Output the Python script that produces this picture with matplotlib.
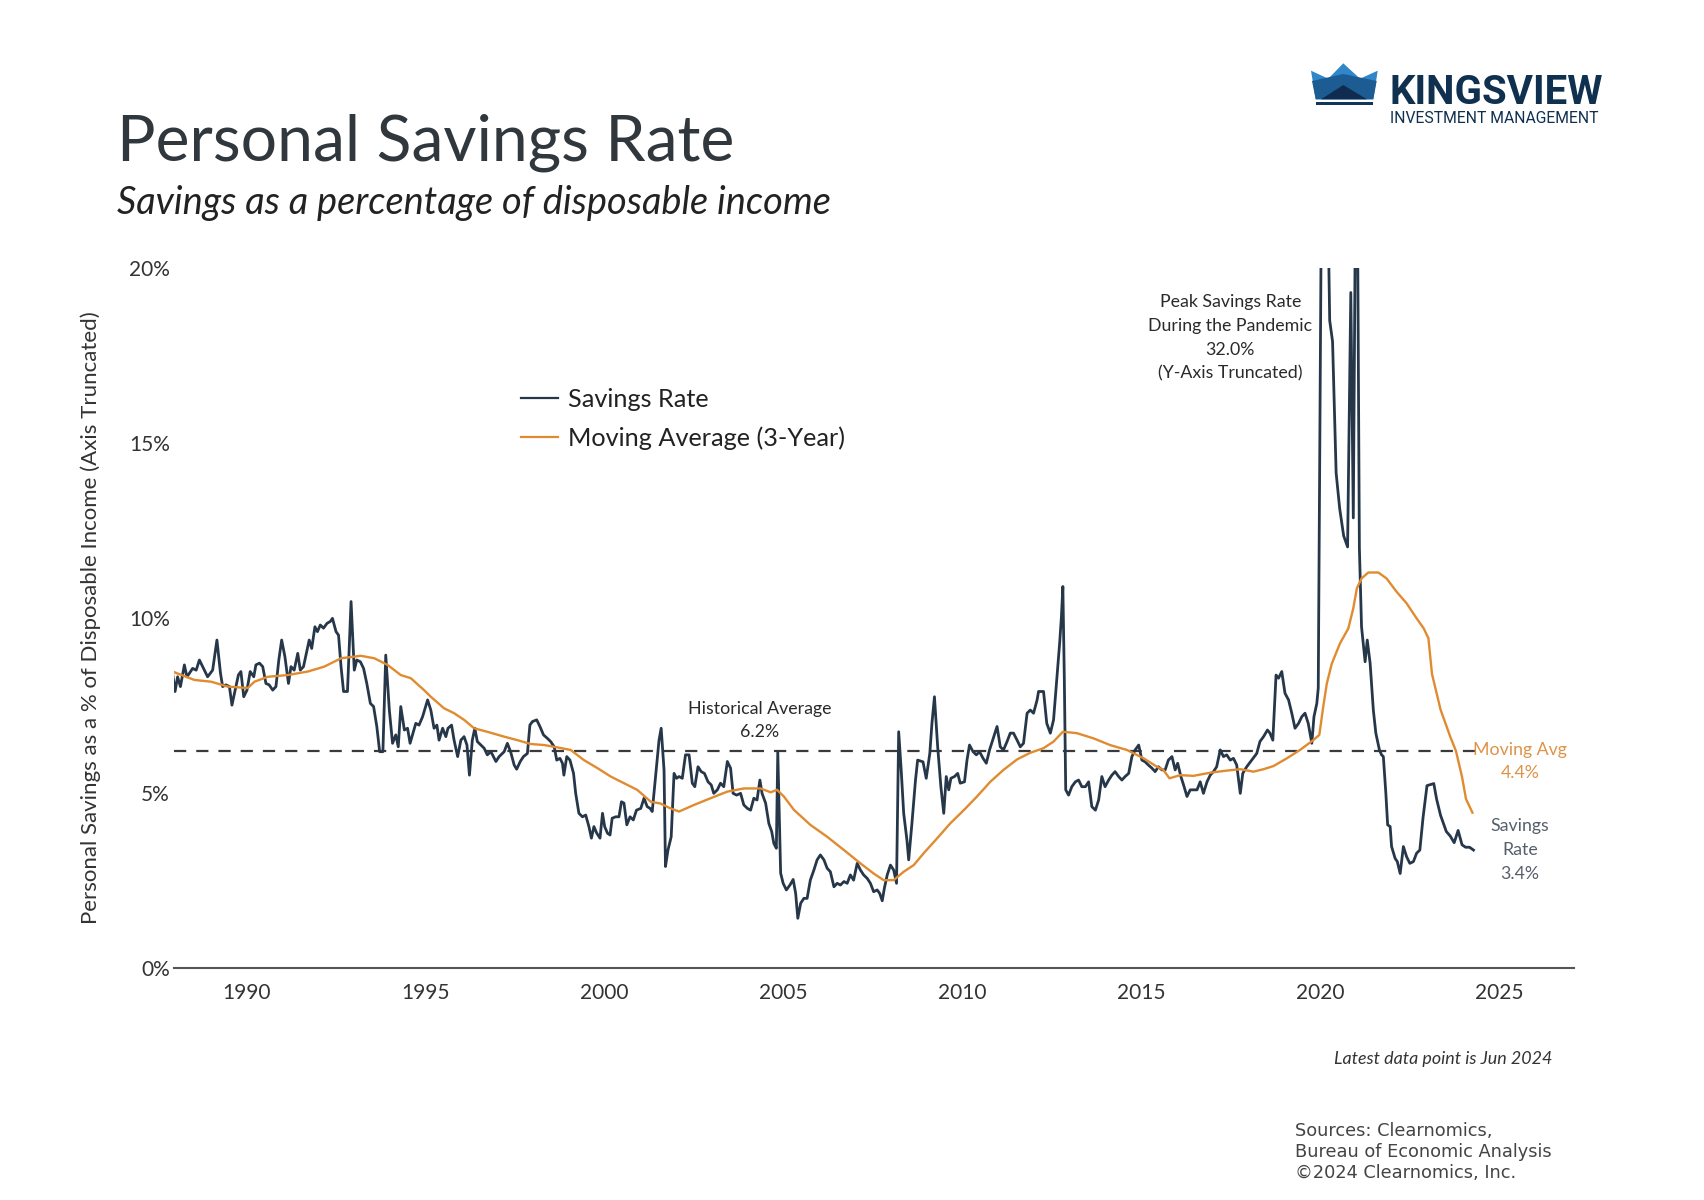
import matplotlib
matplotlib.use("Agg")
import matplotlib.pyplot as plt
from matplotlib.patches import Polygon, Rectangle

plt.rcParams['font.family'] = ['Lato', 'DejaVu Sans']

#%% Data (x in fractional years as placed on the chart)
sr_years = [
    1987.92, 1987.99, 1988.06, 1988.14, 1988.20, 1988.25, 1988.32, 1988.39, 1988.48, 1988.58,
    1988.67, 1988.76, 1988.90, 1989.04, 1989.16, 1989.26, 1989.32, 1989.41, 1989.51, 1989.58,
    1989.67, 1989.76, 1989.83, 1989.91, 1990.00, 1990.09, 1990.19, 1990.25, 1990.35, 1990.44,
    1990.53, 1990.62, 1990.72, 1990.81, 1990.89, 1990.97, 1991.06, 1991.16, 1991.23, 1991.32,
    1991.42, 1991.49, 1991.58, 1991.68, 1991.74, 1991.81, 1991.90, 1991.97, 1992.05, 1992.14,
    1992.24, 1992.33, 1992.39, 1992.49, 1992.56, 1992.63, 1992.70, 1992.81, 1992.91, 1993.00,
    1993.07, 1993.17, 1993.26, 1993.35, 1993.45, 1993.54, 1993.63, 1993.71, 1993.80, 1993.88,
    1993.98, 1994.07, 1994.16, 1994.23, 1994.30, 1994.40, 1994.49, 1994.56, 1994.72, 1994.81,
    1994.91, 1995.05, 1995.14, 1995.23, 1995.31, 1995.37, 1995.47, 1995.56, 1995.62, 1995.72,
    1995.79, 1995.89, 1995.98, 1996.07, 1996.15, 1996.22, 1996.30, 1996.37, 1996.44, 1996.54,
    1996.63, 1996.72, 1996.82, 1996.96, 1997.05, 1997.19, 1997.28, 1997.37, 1997.47, 1997.54,
    1997.64, 1997.73, 1997.84, 1997.91, 1997.98, 1998.10, 1998.19, 1998.29, 1998.40, 1998.49,
    1998.59, 1998.66, 1998.75, 1998.82, 1998.86, 1998.94, 1999.03, 1999.13, 1999.19, 1999.28,
    1999.38, 1999.47, 1999.56, 1999.63, 1999.70, 1999.78, 1999.87, 1999.94, 2000.00, 2000.08,
    2000.15, 2000.21, 2000.31, 2000.40, 2000.47, 2000.54, 2000.62, 2000.71, 2000.80, 2000.89,
    2001.01, 2001.10, 2001.19, 2001.27, 2001.33, 2001.43, 2001.52, 2001.58, 2001.66, 2001.70,
    2001.77, 2001.86, 2001.94, 2002.01, 2002.08, 2002.17, 2002.26, 2002.36, 2002.45, 2002.52,
    2002.61, 2002.70, 2002.79, 2002.89, 2002.98, 2003.05, 2003.15, 2003.24, 2003.33, 2003.43,
    2003.52, 2003.59, 2003.69, 2003.80, 2003.89, 2003.99, 2004.08, 2004.17, 2004.26, 2004.34,
    2004.40, 2004.50, 2004.59, 2004.67, 2004.73, 2004.80, 2004.84, 2004.92, 2004.99, 2005.08,
    2005.18, 2005.27, 2005.34, 2005.40, 2005.48, 2005.57, 2005.66, 2005.75, 2005.85, 2005.94,
    2006.03, 2006.13, 2006.22, 2006.31, 2006.41, 2006.50, 2006.59, 2006.69, 2006.78, 2006.87,
    2006.96, 2007.06, 2007.15, 2007.24, 2007.34, 2007.43, 2007.52, 2007.62, 2007.69, 2007.76,
    2007.82, 2007.90, 2007.99, 2008.08, 2008.16, 2008.22, 2008.29, 2008.36, 2008.45, 2008.50,
    2008.59, 2008.69, 2008.75, 2008.90, 2008.99, 2009.09, 2009.15, 2009.22, 2009.31, 2009.40,
    2009.48, 2009.55, 2009.62, 2009.68, 2009.78, 2009.87, 2009.94, 2010.06, 2010.13, 2010.20,
    2010.30, 2010.39, 2010.48, 2010.58, 2010.67, 2010.76, 2010.88, 2010.97, 2011.06, 2011.15,
    2011.25, 2011.34, 2011.43, 2011.53, 2011.62, 2011.71, 2011.81, 2011.90, 2011.99, 2012.09,
    2012.13, 2012.27, 2012.36, 2012.46, 2012.55, 2012.64, 2012.72, 2012.77, 2012.81, 2012.85,
    2012.89, 2012.97, 2013.06, 2013.16, 2013.25, 2013.34, 2013.44, 2013.53, 2013.62, 2013.72,
    2013.81, 2013.90, 2013.99, 2014.09, 2014.18, 2014.27, 2014.37, 2014.46, 2014.55, 2014.65,
    2014.74, 2014.83, 2014.93, 2015.02, 2015.11, 2015.20, 2015.30, 2015.39, 2015.48, 2015.58,
    2015.67, 2015.76, 2015.86, 2015.95, 2016.02, 2016.11, 2016.20, 2016.28, 2016.37, 2016.46,
    2016.56, 2016.65, 2016.74, 2016.84, 2016.93, 2017.02, 2017.11, 2017.21, 2017.30, 2017.39,
    2017.49, 2017.58, 2017.67, 2017.77, 2017.84, 2017.95, 2018.09, 2018.23, 2018.32, 2018.42,
    2018.53, 2018.60, 2018.68, 2018.77, 2018.84, 2018.93, 2019.02, 2019.12, 2019.21, 2019.30,
    2019.40, 2019.49, 2019.58, 2019.67, 2019.77, 2019.83, 2019.91, 2019.95, 2020.10, 2020.18,
    2020.27, 2020.35, 2020.45, 2020.55, 2020.66, 2020.77, 2020.86, 2020.93, 2021.02, 2021.10,
    2021.16, 2021.26, 2021.32, 2021.40, 2021.49, 2021.56, 2021.66, 2021.72, 2021.77, 2021.84,
    2021.89, 2021.96, 2022.00, 2022.10, 2022.16, 2022.24, 2022.33, 2022.42, 2022.51, 2022.61,
    2022.70, 2022.79, 2022.88, 2022.99, 2023.18, 2023.26, 2023.37, 2023.53, 2023.64, 2023.75,
    2023.86, 2023.97, 2024.07, 2024.18, 2024.29,
]
sr_vals = [
    8.42, 7.90, 8.32, 8.04, 8.37, 8.66, 8.32, 8.42, 8.56, 8.51,
    8.80, 8.61, 8.32, 8.51, 9.37, 8.42, 8.04, 8.09, 8.04, 7.51,
    7.94, 8.37, 8.47, 7.75, 7.94, 8.47, 8.32, 8.66, 8.71, 8.61,
    8.13, 8.09, 7.94, 8.04, 8.80, 9.37, 8.90, 8.13, 8.61, 8.51,
    8.99, 8.51, 8.61, 9.09, 9.37, 9.13, 9.75, 9.61, 9.80, 9.71,
    9.85, 9.90, 9.99, 9.61, 9.51, 8.61, 7.90, 7.90, 10.47, 8.51,
    8.80, 8.75, 8.56, 8.13, 7.56, 7.47, 6.90, 6.18, 6.18, 8.94,
    7.37, 6.42, 6.66, 6.32, 7.47, 6.80, 6.85, 6.42, 6.99, 6.94,
    7.18, 7.66, 7.37, 6.85, 6.94, 6.51, 6.85, 6.61, 6.85, 6.94,
    6.51, 6.04, 6.51, 6.61, 6.37, 5.51, 6.51, 6.85, 6.47, 6.37,
    6.28, 6.09, 6.18, 5.90, 6.04, 6.18, 6.42, 6.18, 5.80, 5.68,
    5.90, 6.04, 6.13, 6.94, 7.04, 7.09, 6.90, 6.66, 6.56, 6.47,
    6.32, 5.94, 5.99, 5.85, 5.51, 6.04, 5.94, 5.56, 4.99, 4.42,
    4.32, 4.37, 4.04, 3.71, 4.04, 3.85, 3.71, 4.42, 4.04, 3.85,
    3.80, 4.28, 4.32, 4.32, 4.75, 4.71, 4.09, 4.32, 4.23, 4.51,
    4.56, 4.85, 4.61, 4.56, 4.47, 5.56, 6.51, 6.85, 5.66, 2.90,
    3.37, 3.75, 5.56, 5.42, 5.47, 5.42, 6.09, 6.09, 5.28, 5.18,
    5.75, 5.61, 5.56, 5.32, 5.23, 4.99, 5.09, 5.28, 5.18, 5.90,
    5.71, 4.99, 4.94, 4.99, 4.66, 4.56, 4.51, 4.85, 4.80, 5.37,
    4.99, 4.71, 4.13, 3.90, 3.56, 3.42, 6.18, 2.71, 2.42, 2.23,
    2.37, 2.53, 2.13, 1.42, 1.85, 1.99, 1.99, 2.51, 2.80, 3.09,
    3.23, 3.09, 2.85, 2.75, 2.32, 2.42, 2.37, 2.47, 2.42, 2.66,
    2.51, 2.99, 2.80, 2.66, 2.56, 2.42, 2.18, 2.23, 2.13, 1.92,
    2.28, 2.66, 2.94, 2.80, 2.42, 6.75, 5.66, 4.42, 3.66, 3.09,
    4.13, 5.37, 5.94, 5.89, 5.42, 6.13, 6.99, 7.75, 6.32, 5.18,
    4.42, 5.47, 5.09, 5.42, 5.47, 5.56, 5.28, 5.32, 5.94, 6.37,
    6.18, 6.09, 6.18, 5.99, 5.85, 6.23, 6.61, 6.90, 6.32, 6.23,
    6.47, 6.71, 6.71, 6.51, 6.32, 6.42, 7.28, 7.37, 7.28, 7.66,
    7.90, 7.90, 6.99, 6.71, 7.09, 8.23, 9.28, 10.04, 10.90, 8.32,
    5.09, 4.94, 5.18, 5.32, 5.37, 5.18, 5.18, 5.32, 4.61, 4.51,
    4.80, 5.47, 5.18, 5.37, 5.51, 5.61, 5.47, 5.37, 5.47, 5.56,
    6.04, 6.23, 6.37, 5.94, 5.89, 5.80, 5.71, 5.61, 5.75, 5.66,
    5.66, 5.94, 6.04, 5.66, 5.85, 5.47, 5.18, 4.90, 5.09, 5.09,
    5.09, 5.32, 4.99, 5.32, 5.51, 5.61, 5.75, 6.23, 6.04, 6.09,
    5.94, 5.99, 5.80, 4.99, 5.56, 5.75, 5.94, 6.13, 6.47, 6.61,
    6.80, 6.71, 6.51, 8.37, 8.28, 8.47, 7.85, 7.66, 7.28, 6.85,
    6.99, 7.18, 7.28, 6.99, 6.42, 7.18, 7.56, 8.00, 32.0, 24.5,
    18.5, 17.9, 14.14, 13.12, 12.35, 12.03, 19.3, 12.86, 26.5, 12.0,
    9.75, 8.75, 9.37, 8.71, 7.37, 6.71, 6.23, 6.09, 6.04, 4.99,
    4.09, 4.04, 3.47, 3.13, 3.04, 2.70, 3.47, 3.18, 2.99, 3.04,
    3.28, 3.37, 4.30, 5.21, 5.27, 4.82, 4.36, 3.90, 3.77, 3.58,
    3.93, 3.52, 3.45, 3.45, 3.37,
]

ma_years = [
    1987.92, 1988.53, 1989.00, 1989.46, 1990.02, 1990.21, 1990.58, 1991.14, 1991.70, 1992.16,
    1992.63, 1993.18, 1993.56, 1993.93, 1994.30, 1994.58, 1994.95, 1995.14, 1995.51, 1995.79,
    1996.07, 1996.35, 1996.82, 1997.19, 1997.56, 1997.93, 1998.31, 1998.59, 1999.05, 1999.42,
    1999.80, 2000.17, 2000.54, 2000.91, 2001.29, 2001.56, 2001.84, 2002.08, 2002.50, 2002.96,
    2003.43, 2003.89, 2004.36, 2004.64, 2004.82, 2005.01, 2005.29, 2005.75, 2006.22, 2006.69,
    2007.15, 2007.52, 2007.80, 2008.08, 2008.36, 2008.64, 2008.92, 2009.29, 2009.66, 2010.04,
    2010.41, 2010.78, 2011.15, 2011.53, 2011.90, 2012.27, 2012.55, 2012.81, 2013.20, 2013.67,
    2014.13, 2014.60, 2015.07, 2015.44, 2015.62, 2015.79, 2016.09, 2016.46, 2016.93, 2017.39,
    2017.77, 2018.14, 2018.42, 2018.70, 2019.07, 2019.44, 2019.81, 2019.98, 2020.09, 2020.19,
    2020.33, 2020.56, 2020.79, 2020.93, 2021.03, 2021.16, 2021.35, 2021.63, 2021.86, 2022.14,
    2022.42, 2022.70, 2022.90, 2023.03, 2023.13, 2023.37, 2023.64, 2023.80, 2023.97, 2024.08,
    2024.26,
]
ma_vals = [
    8.47, 8.23, 8.18, 8.04, 8.00, 8.18, 8.32, 8.37, 8.47, 8.61,
    8.85, 8.92, 8.85, 8.66, 8.37, 8.28, 7.94, 7.75, 7.42, 7.28,
    7.09, 6.85, 6.72, 6.61, 6.51, 6.40, 6.37, 6.32, 6.23, 5.94,
    5.71, 5.47, 5.28, 5.09, 4.75, 4.70, 4.56, 4.47, 4.66, 4.85,
    5.04, 5.13, 5.13, 5.02, 5.09, 4.90, 4.52, 4.09, 3.75, 3.37,
    2.99, 2.70, 2.51, 2.51, 2.75, 2.94, 3.28, 3.70, 4.13, 4.51,
    4.90, 5.32, 5.66, 5.96, 6.15, 6.28, 6.47, 6.75, 6.71, 6.56,
    6.37, 6.23, 5.99, 5.75, 5.66, 5.42, 5.51, 5.49, 5.58, 5.64,
    5.68, 5.61, 5.68, 5.77, 5.99, 6.23, 6.51, 6.66, 7.47, 8.13,
    8.70, 9.28, 9.70, 10.28, 10.85, 11.13, 11.30, 11.30, 11.13, 10.75,
    10.42, 9.99, 9.70, 9.42, 8.40, 7.38, 6.61, 6.20, 5.46, 4.83,
    4.44,
]

hist_avg = 6.2
y_ticks = [0, 5, 10, 15, 20]
y_ticklabels = ['0%', '5%', '10%', '15%', '20%']
x_ticks = [1990, 1995, 2000, 2005, 2010, 2015, 2020, 2025]

#%% Colours
SR_COL = '#26374a'
MA_COL = '#e08b30'
TXT = '#2a2a2a'

W, H = 1704, 1200
fig = plt.figure(figsize=(W / 100, H / 100), dpi=100)
fig.patch.set_facecolor('white')

ax = fig.add_axes([174 / W, 1 - 968 / H, 1400 / W, 700 / H])
ax.plot(sr_years, sr_vals, color=SR_COL, lw=2.0, label='Savings Rate', zorder=3)
ax.plot(ma_years, ma_vals, color=MA_COL, lw=1.7, label='Moving Average (3-Year)', zorder=4)
ax.hlines(hist_avg, 1987.96, 2024.35, colors='#3a3a3a', linestyles=(0, (5.5, 4.5)), lw=1.6, zorder=2)

ax.set_xlim(1987.96, 2027.1)
ax.set_ylim(0, 20)
ax.set_yticks(y_ticks)
ax.set_yticklabels(y_ticklabels)
ax.set_xticks(x_ticks)
ax.tick_params(axis='both', length=0, labelsize=15, colors='#333333')
ax.tick_params(axis='x', pad=11)
ax.tick_params(axis='y', pad=3)
for s in ['top', 'right', 'left']:
    ax.spines[s].set_visible(False)
ax.spines['bottom'].set_color('#555555')
ax.spines['bottom'].set_linewidth(1.5)
ax.set_facecolor('none')

ax.set_ylabel('Personal Savings as a % of Disposable Income (Axis Truncated)',
              fontsize=16, color='#333333', labelpad=20)

# legend
leg = ax.legend(loc='upper left', bbox_to_anchor=(521 / W, 1 - 388 / H),
                bbox_transform=fig.transFigure, frameon=False, fontsize=18.2,
                handlelength=1.45, handletextpad=0.4, labelspacing=0.62,
                borderaxespad=0, borderpad=0)
for t in leg.get_texts():
    t.set_color('#222222')
for h in leg.get_lines():
    h.set_linewidth(1.6)

# annotations
ax.text(2004.33, 6.5, 'Historical Average\n6.2%', ha='center', va='bottom',
        fontsize=12.8, color=TXT, linespacing=1.6)
ax.text(2017.49, 19.25, 'Peak Savings Rate\nDuring the Pandemic\n32.0%\n(Y-Axis Truncated)',
        ha='center', va='top', fontsize=12.8, color=TXT, linespacing=1.6)
ax.text(2025.59, 5.9, 'Moving Avg\n4.4%', ha='center', va='center',
        fontsize=12.8, color='#de9448', linespacing=1.55, clip_on=False)
ax.text(2025.59, 3.37, 'Savings\nRate\n3.4%', ha='center', va='center',
        fontsize=12.8, color='#55606b', linespacing=1.6, clip_on=False)

#%% Titles and footer text
fig.text(117 / W, 1 - 161 / H, 'Personal Savings Rate', fontsize=46.3, color='#30373d',
         ha='left', va='baseline')
fig.text(117 / W, 1 - 214 / H, 'Savings as a percentage of disposable income', fontsize=27.4,
         style='italic', color='#222222', ha='left', va='baseline')
fig.text(1552 / W, 1 - 1059 / H, 'Latest data point is Jun 2024', fontsize=12.9,
         style='italic', color='#333333', ha='right', va='center')
fig.text(1295 / W, 1 - 1122 / H, 'Sources: Clearnomics,\nBureau of Economic Analysis\n\u00a92024 Clearnomics, Inc.',
         fontsize=12.8, family='DejaVu Sans', color='#444444', ha='left', va='top', linespacing=1.2)

#%% Logo
lax = fig.add_axes([1300 / W, 1 - 110 / H, 90 / W, 55 / H])
lax.set_xlim(1300, 1390)
lax.set_ylim(110, 55)
lax.axis('off')
lax.add_patch(Polygon([(1311, 70.7), (1328.3, 78.7), (1343.3, 63.3), (1360, 78.7), (1377.7, 70.7),
                       (1373.3, 99.3), (1315.7, 99.3)], closed=True, color='#2f86c9', lw=0))
lax.add_patch(Polygon([(1312, 81), (1343.3, 74), (1376.7, 81), (1373.3, 99.3), (1315.7, 99.3)],
                      closed=True, color='#1c5c93', lw=0))
lax.add_patch(Polygon([(1321, 99.3), (1343.3, 85), (1367, 99.3)], closed=True, color='#0f2c50', lw=0))
lax.add_patch(Rectangle((1315.7, 101.7), 57.6, 3.3, color='#14345a', lw=0))

fig.text(1389 / W, 1 - 104 / H, 'KINGSVIEW', fontsize=29, family='Roboto', weight='bold',
         color='#10304f', ha='left', va='baseline')
fig.text(1390 / W, 1 - 123 / H, 'INVESTMENT MANAGEMENT', fontsize=11.3, family='Roboto',
         color='#10304f', ha='left', va='baseline')

fig.savefig('out.png', dpi=100, facecolor='white')
